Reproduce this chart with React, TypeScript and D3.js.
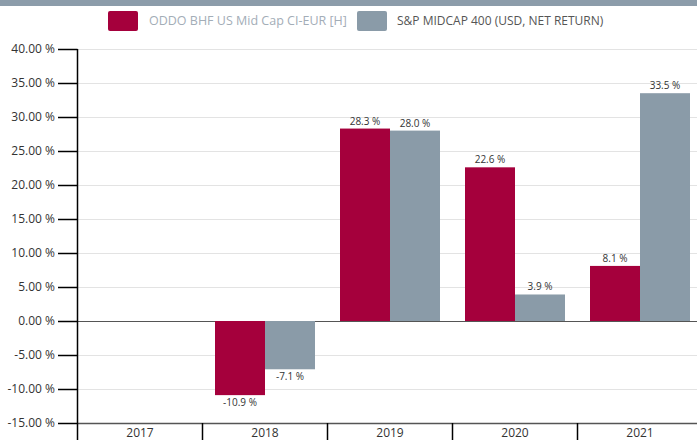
import React from "react";
import * as d3 from "d3";

const categories = ["2017", "2018", "2019", "2020", "2021"];
const fundValues: (number | null)[] = [null, -10.9, 28.3, 22.6, 8.1];
const indexValues: (number | null)[] = [null, -7.1, 28.0, 3.9, 33.5];
const seriesNames = ["ODDO BHF US Mid Cap CI-EUR [H]", "S&P MIDCAP 400 (USD, NET RETURN)"];
const yTicks = [40, 35, 30, 25, 20, 15, 10, 5, 0, -5, -10, -15];

const W = 697, H = 444;
const RED = "#a5003c", GRAY = "#8a9ba8";
const FONT = "'Open Sans', 'Noto Sans', sans-serif";

export default function App() {
  const left = 77.5;
  const x = d3.scaleBand<string>().domain(categories).range([left, left + 125 * 5]).paddingInner(0).paddingOuter(0);
  const y = d3.scaleLinear().domain([-15, 40]).range([423, 49]);
  const inner = d3.scaleBand<string>().domain(["a", "b"]).range([0, x.bandwidth()]).paddingOuter(0.25).paddingInner(0);
  const series = [
    { vals: fundValues, color: RED, key: "a" },
    { vals: indexValues, color: GRAY, key: "b" },
  ];
  return (
    <svg width={W} height={H} style={{ position: "absolute", left: 0, top: 0, fontFamily: FONT }}>
      <rect x={0} y={0} width={W} height={H} fill="#fff" />
      <rect x={0} y={0} width={W} height={6} fill="#8c9caa" />
      {/* legend */}
      <rect x={108} y={11} width={30} height={20} rx={2} fill={RED} />
      <text x={149} y={25} fontSize={12.5} fill="#a3adb7">{seriesNames[0]}</text>
      <rect x={357} y={11} width={30} height={20} rx={2} fill={GRAY} />
      <text x={397} y={25} fontSize={12} fill="#555">{seriesNames[1]}</text>
      {/* gridlines */}
      {yTicks.map((t) => (
        <line key={t} x1={left} x2={W} y1={Math.round(y(t)) + 0.5} y2={Math.round(y(t)) + 0.5}
          stroke={t === 0 || t === -15 ? "#555" : "#e3e3e3"} strokeWidth={t === 0 ? 1 : t === -15 ? 1.5 : 1} />
      ))}
      {/* bars */}
      {series.map((s) =>
        categories.map((c, i) => {
          const v = s.vals[i];
          if (v == null) return null;
          const bx = (x(c) as number) + (inner(s.key) as number);
          const y0 = y(0), y1 = y(v);
          return (
            <g key={s.key + c}>
              <rect x={bx} y={Math.min(y0, y1)} width={inner.bandwidth()} height={Math.abs(y1 - y0)} fill={s.color} />
              <text x={bx + inner.bandwidth() / 2} y={v >= 0 ? y1 - 4 : y1 + 11} fontSize={10} fill="#333" textAnchor="middle">
                {v.toFixed(1) + " %"}
              </text>
            </g>
          );
        })
      )}
      {/* y axis */}
      <line x1={left} x2={left} y1={49} y2={440} stroke="#000" strokeWidth={1.5} />
      {yTicks.map((t) => (
        <g key={"t" + t}>
          <line x1={58} x2={left} y1={Math.round(y(t)) + 0.5} y2={Math.round(y(t)) + 0.5} stroke="#000" strokeWidth={1.5} />
          <text x={55} y={y(t) + 4} fontSize={12} fill="#333" textAnchor="end">{t.toFixed(2) + " %"}</text>
        </g>
      ))}
      {/* x axis separators */}
      {categories.map((c) => (
        <line key={"s" + c} x1={(x(c) as number) + 125} x2={(x(c) as number) + 125} y1={423} y2={440} stroke="#000" strokeWidth={1.5} />
      ))}
      {categories.map((c) => (
        <text key={"l" + c} x={(x(c) as number) + 62.5} y={437} fontSize={12} fill="#333" textAnchor="middle">{c}</text>
      ))}
    </svg>
  );
}
